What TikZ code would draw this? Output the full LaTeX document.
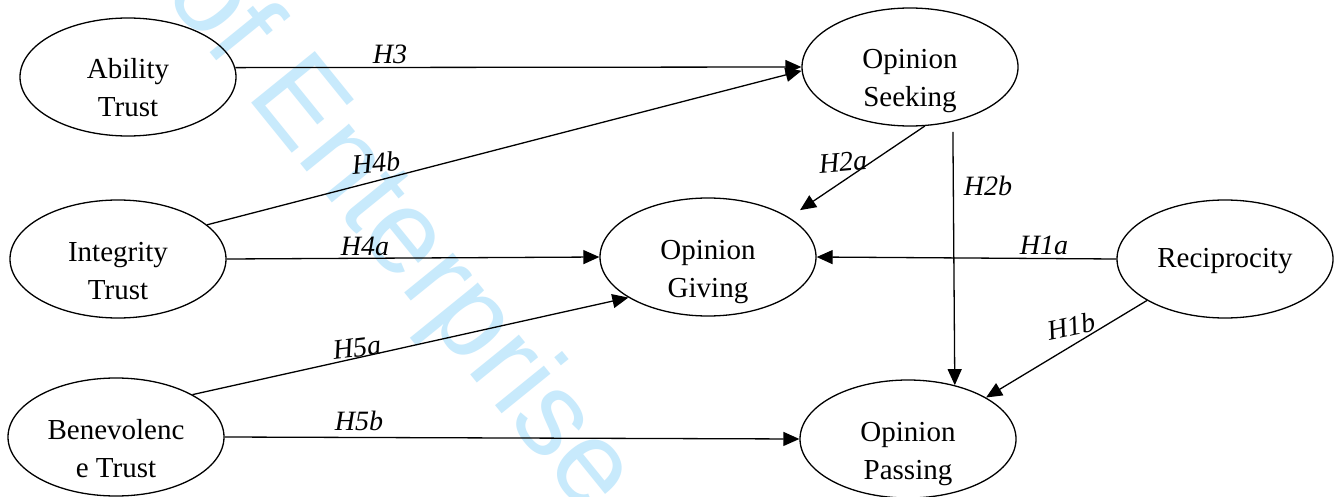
\documentclass[tikz,border=0pt]{standalone}
\usepackage{fontspec}
\setmainfont{Liberation Serif}
\newfontfamily\wmfont{Liberation Sans}
\usetikzlibrary{arrows.meta,shapes.geometric,calc}
\definecolor{wmblue}{RGB}{200,234,252}
\begin{document}
\begin{tikzpicture}[x=1pt,y=-1pt,
  ell/.style={draw, ellipse, line width=1.3pt, minimum width=216pt, minimum height=118pt,
    inner sep=0pt, font=\fontsize{29pt}{38pt}\selectfont, text height=20pt, text depth=16pt},
  arr/.style={line width=1.3pt, -{Triangle[length=16pt,width=14pt]}},
  hyp/.style={font=\fontsize{28pt}{34pt}\selectfont\itshape, inner sep=0pt},
  wm/.style={font=\wmfont\fontsize{119pt}{119pt}\selectfont, text=wmblue, inner sep=0pt}
]
\useasboundingbox (0,0) rectangle (1337,497);
\fill[white] (0,0) rectangle (1337,497);

% watermark
\node[wm, anchor=base west, rotate=-51] (wmark) at (162,-7) {of Enterprise};

% constructs
\node[ell] (ab)   at (128,77)  {\begin{tabular}[t]{@{}c@{}}Ability\\Trust\end{tabular}};
\node[ell] (int)  at (118,259) {\begin{tabular}[t]{@{}c@{}}Integrity\\Trust\end{tabular}};
\node[ell] (ben)  at (116,437) {\begin{tabular}[t]{@{}c@{}}Benevolenc\\e Trust\end{tabular}};
\node[ell] (seek) at (910,67)  {\begin{tabular}[t]{@{}c@{}}Opinion\\Seeking\end{tabular}};
\node[ell] (giv)  at (708,257) {\begin{tabular}[t]{@{}c@{}}Opinion\\Giving\end{tabular}};
\node[ell] (pas)  at (908,439) {\begin{tabular}[t]{@{}c@{}}Opinion\\Passing\end{tabular}};
\node[ell, text depth=4pt] (rec) at (1225,259) {Reciprocity};

% paths
\draw[arr] (ab.5) -- (seek.west);
\draw[arr] (int.21) -- (seek.182);
\draw[arr] (int.east) -- (giv.west);
\draw[arr] (ben.29) -- (giv.207);
\draw[arr] (ben.east) -- (pas.west);
\draw[arr, shorten >=13pt] (seek.-76) -- (giv.26);
\draw[arr, shorten <=10pt] (seek.-52) -- (pas.49);
\draw[arr] (rec.west) -- (giv.east);
\draw[arr] (rec.208) -- (pas.28);

% labels
\node[hyp] (h3)  at (390,54)  {H3};
\node[hyp, rotate=5] (h4b) at (376,163) {H4b};
\node[hyp] (h4a) at (365,246) {H4a};
\node[hyp, rotate=7] (h5a) at (357,348) {H5a};
\node[hyp] (h5b) at (359,421) {H5b};
\node[hyp, rotate=5] (h2a) at (843,162) {H2a};
\node[hyp] (h2b) at (988,186) {H2b};
\node[hyp] (h1a) at (1044,245) {H1a};
\node[hyp, rotate=12] (h1b) at (1071,326) {H1b};
\end{tikzpicture}
\end{document}
